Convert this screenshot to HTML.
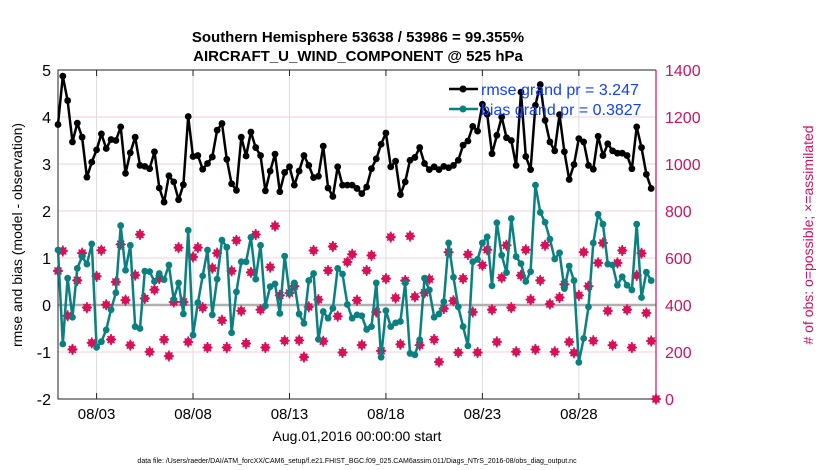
<!DOCTYPE html>
<html><head><meta charset="utf-8"><style>
body{margin:0;background:#fff;}
svg{display:block;font-family:"Liberation Sans",Arial,sans-serif;}
</style></head><body>
<svg id="chart" width="830" height="470" viewBox="0 0 830 470" xmlns="http://www.w3.org/2000/svg">
<text x="358" y="42" text-anchor="middle" font-size="15" font-weight="bold">Southern Hemisphere 53638 / 53986 = 99.355%</text>
<text x="358" y="61" text-anchor="middle" font-size="15" font-weight="bold">AIRCRAFT_U_WIND_COMPONENT @ 525 hPa</text>
<g id="grid"></g>
<g id="axes"></g>
<g id="marks"></g>
<text transform="translate(22,235) rotate(-90)" text-anchor="middle" font-size="14">rmse and bias (model - observation)</text>
<text transform="translate(813,235) rotate(-90)" text-anchor="middle" font-size="14" fill="#d01060"># of obs: o=possible; ×=assimilated</text>
<text x="357" y="441" text-anchor="middle" font-size="14">Aug.01,2016 00:00:00 start</text>
<text x="357" y="463" text-anchor="middle" font-size="7">data file: /Users/raeder/DAI/ATM_forcXX/CAM6_setup/f.e21.FHIST_BGC.f09_025.CAM6assim.011/Diags_NTrS_2016-08/obs_diag_output.nc</text>
<g>
<line x1="449" y1="89" x2="478" y2="89" stroke="#000" stroke-width="2.5"/>
<circle cx="463" cy="89" r="3.5" fill="#000"/>
<text x="481" y="95" font-size="16" fill="#1240ff">rmse grand pr = 3.247</text>
<line x1="449" y1="109" x2="478" y2="109" stroke="#0a8080" stroke-width="2.5"/>
<circle cx="463" cy="109" r="3.5" fill="#0a8080"/>
<text x="481" y="115" font-size="16" fill="#1240ff">bias grand pr = 0.3827</text>
</g>
</svg>
<script>
const leftTicks=[-2,-1,0,1,2,3,4,5];
const rightTicks=[0,200,400,600,800,1000,1200,1400];
const dateTicks=[2,7,12,17,22,27];
const dateLabels=["08/03","08/08","08/13","08/18","08/23","08/28"];
const rmse=[3.84,4.87,4.35,3.47,3.87,3.57,2.72,3.04,3.30,3.64,3.33,3.52,3.50,3.79,2.80,3.24,3.57,2.97,2.95,2.90,3.26,2.49,2.19,2.75,2.62,2.24,2.56,4.01,3.16,3.18,2.89,3.01,
3.15,3.72,3.86,3.10,2.58,2.44,3.57,3.17,3.68,3.35,3.18,2.43,2.85,3.21,2.41,2.82,2.94,2.55,2.85,3.18,2.97,2.71,2.74,3.38,2.49,2.31,2.94,2.55,2.55,2.55,2.48,
2.37,2.51,2.90,3.11,3.42,3.66,2.94,3.06,2.35,2.62,3.08,3.14,3.35,3.01,2.88,2.94,2.88,2.95,2.92,2.97,3.08,3.40,3.49,3.80,3.70,4.27,4.06,3.22,3.61,4.00,3.56,
3.50,2.97,4.53,3.16,2.88,4.25,4.69,3.93,3.47,3.28,4.05,3.26,2.67,2.99,3.54,3.47,2.97,2.89,3.59,3.18,3.43,3.28,3.23,3.23,3.18,2.90,3.79,3.35,2.78,2.48];
const bias=[1.17,-0.83,0.57,-0.26,0.78,1.03,0.87,1.30,-0.90,-0.78,-0.53,-0.10,0.26,1.69,0.74,1.27,-0.46,-0.50,0.72,0.71,0.50,0.67,0.54,0.85,0.12,0.47,-0.19,1.59,-0.64,0.05,0.62,1.17,
-0.21,0.55,1.38,1.23,-0.59,0.28,0.92,0.92,1.44,0.55,1.27,-0.02,0.39,0.45,-0.18,1.04,0.25,0.47,-0.19,-0.39,0.52,0.67,-0.73,-0.14,-0.28,-0.07,0.78,0.66,0.01,-0.28,-0.21,
-0.23,-0.52,-0.46,0.47,-1.11,-0.12,-0.46,-0.38,-0.35,0.47,-1.03,-1.06,-0.74,0.57,0.32,-0.26,-0.19,0.07,1.32,0.59,-0.04,-0.46,-0.87,0.92,0.97,1.32,1.45,0.41,1.75,1.06,0.69,
1.84,1.03,0.88,0.50,0.71,2.55,1.97,1.76,1.40,0.98,1.11,0.35,0.83,0.52,-1.22,-0.71,-0.04,1.32,1.93,1.72,0.87,0.85,0.42,0.60,0.42,0.32,1.72,0.16,0.70,0.52];
const obsCount=[545,630,354,211,505,621,389,239,522,633,401,253,498,658,421,229,527,700,428,201,465,512,253,183,413,644,413,243,604,644,389,219,
557,621,335,219,545,675,375,236,539,700,380,219,561,736,441,248,451,480,250,178,392,632,423,246,547,649,352,198,583,616,420,
230,547,611,370,205,512,689,430,233,504,693,435,229,452,510,253,158,385,625,418,198,512,615,370,198,569,635,380,243,516,654,
389,201,526,635,423,211,505,654,404,201,432,488,243,197,441,625,480,248,579,664,375,229,579,632,380,219,526,620,366,247];
const extraCountDay=31, extraCount=0;

const X0=58,X1=656,Y0=70,Y1=399;
const xS=d=>X0+(d/31)*(X1-X0);
const yL=v=>Y1-(v+2)/7*(Y1-Y0);
const yR=c=>Y1-c/1400*(Y1-Y0);
const NS="http://www.w3.org/2000/svg";
function mk(tag,attrs,parent){const e=document.createElementNS(NS,tag);for(const k in attrs)e.setAttribute(k,attrs[k]);parent.appendChild(e);return e;}
const grid=document.getElementById('grid'),axes=document.getElementById('axes'),marks=document.getElementById('marks');

rightTicks.forEach((c,i)=>{
  if(c>0&&c<1400){const l=mk('line',{x1:X0,x2:X1,y1:yR(c),y2:yR(c),stroke:'#f3cfdc','stroke-width':1},grid);
  
  }
  const t=mk('text',{x:X1+9,y:yR(c)+6,'font-size':16,fill:'#d01060'},axes);t.textContent=c;
  
  
});
dateTicks.forEach((d,i)=>{
  const l=mk('line',{x1:xS(d),x2:xS(d),y1:Y0,y2:Y1,stroke:'#dcdcdc','stroke-width':1},grid);
  
  
  mk('line',{x1:xS(d),x2:xS(d),y1:Y1,y2:Y1-6,stroke:'#222'},axes);
  mk('line',{x1:xS(d),x2:xS(d),y1:Y0,y2:Y0+6,stroke:'#222'},axes);
  const t=mk('text',{x:xS(d),y:Y1+20,'font-size':15,'text-anchor':'middle'},axes);t.textContent=dateLabels[i];
  
  
});
leftTicks.forEach(v=>{
  const t=mk('text',{x:X0-7,y:yL(v)+6,'font-size':16,'text-anchor':'end'},axes);t.textContent=v;
  
  
});
const z=mk('line',{x1:X0,x2:X1,y1:yL(0),y2:yL(0),stroke:'#b0b0b0','stroke-width':2.5},grid);


mk('path',{d:`M${X1} ${Y0}H${X0}V${Y1}H${X1}`,fill:'none',stroke:'#222','stroke-width':1},axes);
mk('line',{x1:X1,x2:X1,y1:Y0,y2:Y1,stroke:'#d01060','stroke-width':1.2},axes);

function star(x,y,g){
  mk('path',{d:`M${x-5} ${y}L${x} ${y-5}L${x+5} ${y}L${x} ${y+5}Z`,fill:'#d81058'},g);
  mk('path',{d:`M${x-5} ${y}H${x+5}M${x} ${y-5.5}V${y+5.5}M${x-3.5} ${y-3.5}L${x+3.5} ${y+3.5}M${x-3.5} ${y+3.5}L${x+3.5} ${y-3.5}`,stroke:'#d81058','stroke-width':1.6},g);
}
const cg=mk('g',{},marks);


obsCount.forEach((c,i)=>star(xS(i*0.25),yR(c),cg));
star(xS(extraCountDay),yR(extraCount),cg);

function series(vals,color,name){
  const g=mk('g',{},marks);
  
  
  const pts=vals.map((v,i)=>xS(i*0.25).toFixed(1)+','+yL(v).toFixed(1)).join(' ');
  mk('polyline',{points:pts,fill:'none',stroke:color,'stroke-width':2.5,'stroke-linejoin':'round'},g);
  vals.forEach((v,i)=>mk('circle',{cx:xS(i*0.25),cy:yL(v),r:3.4,fill:color},g));
}
series(bias,'#0a8080','bias-series');
series(rmse,'#000','rmse-series');
</script>
</body></html>
